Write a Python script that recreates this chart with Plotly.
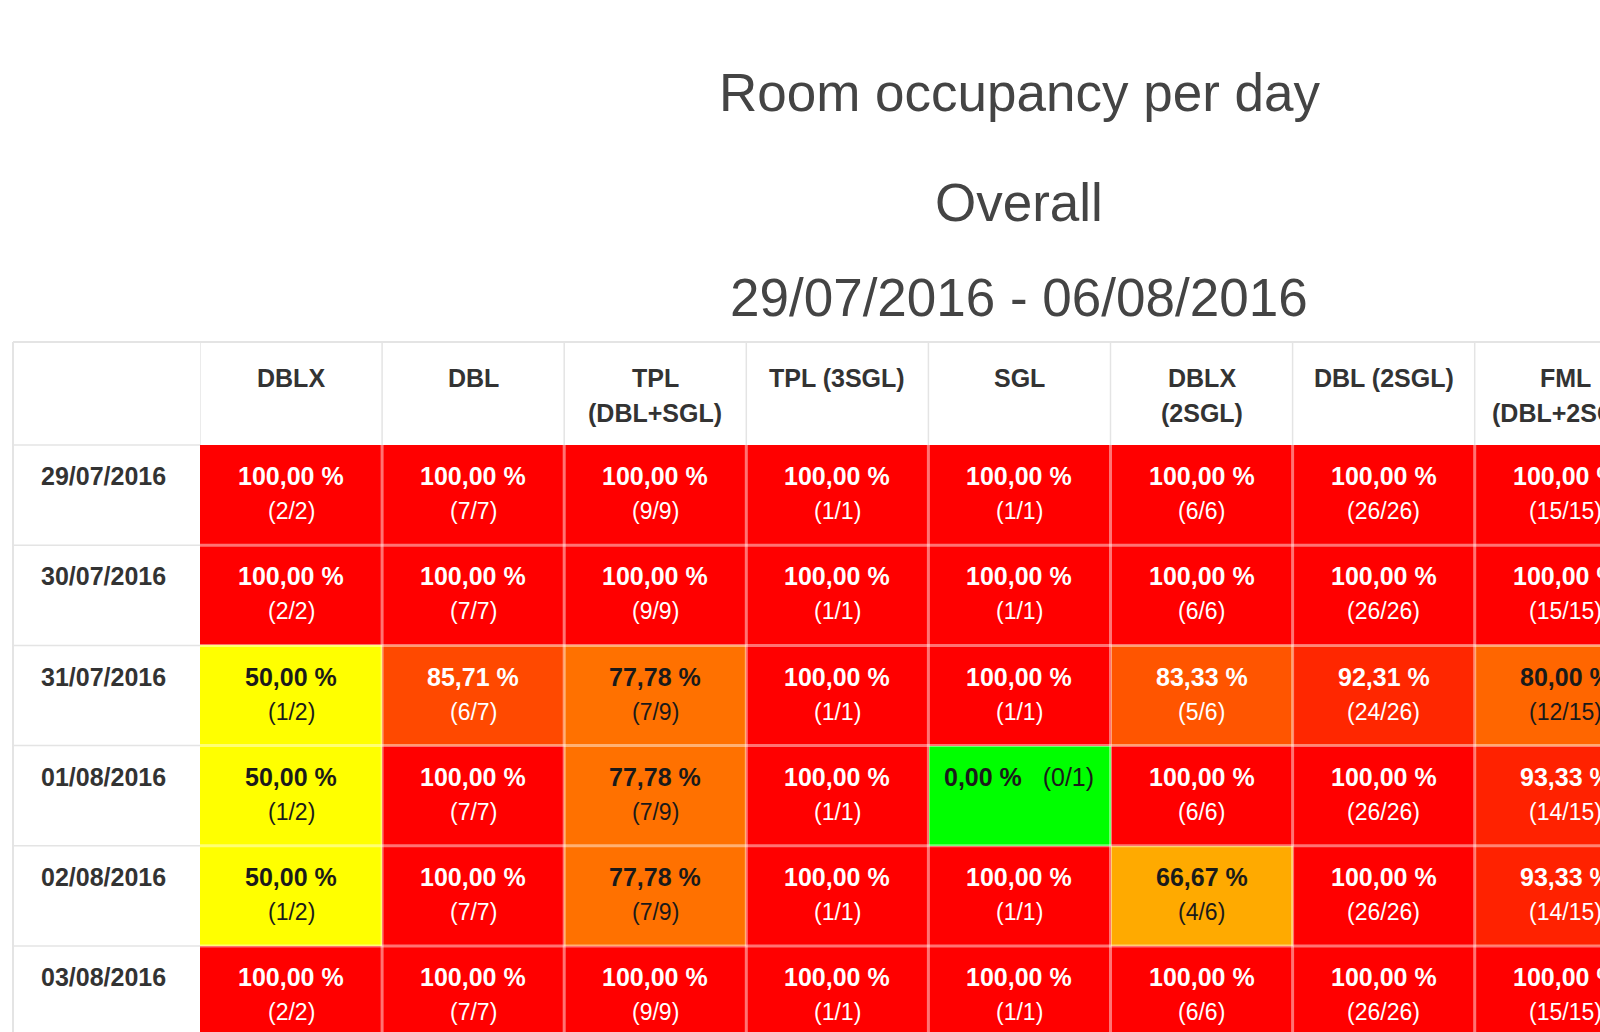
import plotly.graph_objects as go

# ---------------- data ----------------
title_lines = ["Room occupancy per day", "Overall", "29/07/2016 - 06/08/2016"]
room_types = ["DBLX", "DBL", "TPL<br>(DBL+SGL)", "TPL (3SGL)", "SGL",
              "DBLX<br>(2SGL)", "DBL (2SGL)", "FML<br>(DBL+2SGL)"]
dates = ["29/07/2016", "30/07/2016", "31/07/2016", "01/08/2016", "02/08/2016", "03/08/2016"]
capacity = [2, 7, 9, 1, 1, 6, 26, 15]
occupied = [
    [2, 7, 9, 1, 1, 6, 26, 15],
    [2, 7, 9, 1, 1, 6, 26, 15],
    [1, 6, 7, 1, 1, 5, 24, 12],
    [1, 7, 7, 1, 0, 6, 26, 14],
    [1, 7, 7, 1, 1, 4, 26, 14],
    [2, 7, 9, 1, 1, 6, 26, 15],
]
occupancy_pct = [
    [100.00, 100.00, 100.00, 100.00, 100.00, 100.00, 100.00, 100.00],
    [100.00, 100.00, 100.00, 100.00, 100.00, 100.00, 100.00, 100.00],
    [50.00, 85.71, 77.78, 100.00, 100.00, 83.33, 92.31, 80.00],
    [50.00, 100.00, 77.78, 100.00, 0.00, 100.00, 100.00, 93.33],
    [50.00, 100.00, 77.78, 100.00, 100.00, 66.67, 100.00, 93.33],
    [100.00, 100.00, 100.00, 100.00, 100.00, 100.00, 100.00, 100.00],
]

# ---------------- layout constants ----------------
W, H = 1600, 1032
ML, MT = 200, 445
PW, PH = W - ML, H - MT
COL_W, ROW_H = 182.1, 100.2
ncols, nrows = len(room_types), len(dates)
FONT = "Liberation Sans, Arial, sans-serif"


def py(px):
    """pixel row (from top) -> paper y"""
    return (H - px) / PH


def pxp(px):
    """pixel column -> paper x"""
    return (px - ML) / PW


fig = go.Figure()
fig.add_trace(go.Heatmap(
    z=occupancy_pct,
    x=list(range(ncols)),
    y=list(range(nrows)),
    colorscale=[[0, "#00ff00"], [0.5, "#ffff00"], [1, "#ff0000"]],
    zmin=0, zmax=100,
    showscale=False,
    hoverinfo="skip",
))

ann = []
# titles
for txt, ypx in zip(title_lines, [92, 203, 297]):
    ann.append(dict(text=txt, xref="paper", yref="paper", x=pxp(1019), y=py(ypx),
                    showarrow=False, xanchor="center", yanchor="middle",
                    font=dict(family=FONT, size=53, color="#444444")))

# column headers
for i, lab in enumerate(room_types):
    for k, line in enumerate(lab.split("<br>")):
        ann.append(dict(text="<b>%s</b>" % line, xref="x", yref="paper", x=i,
                        y=py(378 + 35 * k), showarrow=False,
                        xanchor="center", yanchor="middle",
                        font=dict(family=FONT, size=25, color="#333333")))

# row labels
for j, d in enumerate(dates):
    ann.append(dict(text="<b>%s</b>" % d, xref="paper", yref="y", x=pxp(103), y=j,
                    yshift=19, showarrow=False, xanchor="center", yanchor="middle",
                    font=dict(family=FONT, size=25, color="#333333")))

# cell texts
for j in range(nrows):
    for i in range(ncols):
        v = occupancy_pct[j][i]
        ptxt = ("%.2f" % v).replace(".", ",") + " %"
        ctxt = "(%d/%d)" % (occupied[j][i], capacity[i])
        col = "#1a1a1a" if v <= 80 else "#ffffff"
        if len(ptxt) <= 6:
            ann.append(dict(text="<b>%s</b>   %s" % (ptxt, ctxt), xref="x", yref="y",
                            x=i, y=j, yshift=19, showarrow=False,
                            font=dict(family=FONT, size=25, color=col)))
        else:
            ann.append(dict(text="<b>%s</b>" % ptxt, xref="x", yref="y",
                            x=i, y=j, yshift=19, showarrow=False,
                            font=dict(family=FONT, size=25, color=col)))
            ann.append(dict(text=ctxt, xref="x", yref="y",
                            x=i, y=j, yshift=-16, showarrow=False,
                            font=dict(family=FONT, size=23, color=col)))

shapes = []
grey = "#e4e4e4"
# cell separators (semi-transparent white)
for i in range(1, ncols + 1):
    shapes.append(dict(type="line", xref="x", yref="y", x0=i - 0.5, x1=i - 0.5,
                       y0=-0.5, y1=nrows - 0.5,
                       line=dict(color="rgba(255,255,255,0.45)", width=3), layer="above"))
for j in range(1, nrows):
    shapes.append(dict(type="line", xref="x", yref="y", x0=-0.5, x1=ncols - 0.5,
                       y0=j - 0.5, y1=j - 0.5,
                       line=dict(color="rgba(255,255,255,0.45)", width=3), layer="above"))
# header grid
for i in range(0, ncols + 1):
    shapes.append(dict(type="line", xref="x", yref="paper", x0=i - 0.5, x1=i - 0.5,
                       y0=1, y1=py(342), line=dict(color=grey, width=1.5)))
shapes.append(dict(type="line", xref="paper", yref="paper", x0=pxp(13), x1=1.2,
                   y0=py(342), y1=py(342), line=dict(color=grey, width=2)))
shapes.append(dict(type="line", xref="paper", yref="paper", x0=pxp(13), x1=pxp(13),
                   y0=py(342), y1=0, line=dict(color=grey, width=2)))
shapes.append(dict(type="line", xref="paper", yref="paper", x0=pxp(13), x1=0,
                   y0=1, y1=1, line=dict(color=grey, width=1.5)))
for j in range(1, nrows):
    shapes.append(dict(type="line", xref="paper", yref="y", x0=pxp(13), x1=0,
                       y0=j - 0.5, y1=j - 0.5, line=dict(color=grey, width=1.5)))

fig.update_layout(
    width=W, height=H,
    margin=dict(l=ML, r=0, t=MT, b=0, pad=0),
    paper_bgcolor="white", plot_bgcolor="white",
    xaxis=dict(range=[-0.5, -0.5 + PW / COL_W], visible=False, fixedrange=True),
    yaxis=dict(range=[-0.5 + PH / ROW_H, -0.5], visible=False, fixedrange=True),
    annotations=ann, shapes=shapes, showlegend=False,
)

fig.write_html("out.html", config={"displayModeBar": False})
